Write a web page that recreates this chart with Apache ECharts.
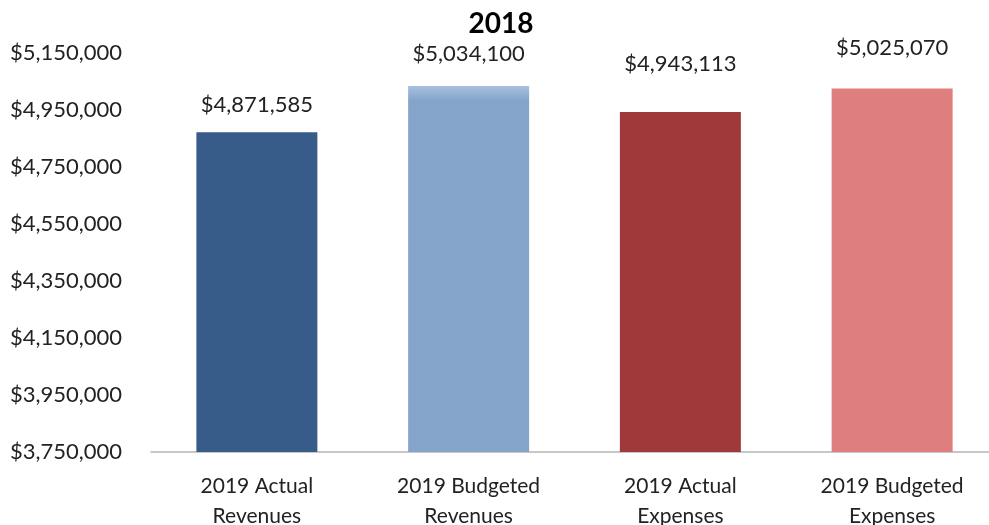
<!DOCTYPE html>
<html>
<head>
<meta charset="utf-8">
<style>
  html, body { margin: 0; padding: 0; background: #fff; }
  #main { width: 989px; height: 525px; }
</style>
<script src="https://cdn.jsdelivr.net/npm/echarts@6/dist/echarts.min.js"></script>
</head>
<body>
<div id="main"></div>
<script>
const categories = ['2019 Actual\nRevenues', '2019 Budgeted\nRevenues', '2019 Actual\nExpenses', '2019 Budgeted\nExpenses'];
const values = [4871585, 5034100, 4943113, 5025070];
const barColors = ['#375C89', '#84A4CA', '#A03A3A', '#DF7E7E'];
// the value labels sit at uneven heights above the bars in the original
const labelGaps = [16, 21, 37, 30];

const chart = echarts.init(document.getElementById('main'));
const font = 'Lato, "Open Sans", sans-serif';

// format 4871585 -> $4,871,585
const money = v => '$' + Math.round(v).toLocaleString('en-US');

chart.setOption({
    title: {
        text: '2018',
        left: 496,
        textAlign: 'center',
        top: 5,
        textStyle: { fontFamily: font, fontSize: 28, fontWeight: 'bold', color: '#000' }
    },
    grid: { left: 151, top: 53, width: 847, height: 399, containLabel: false, outerBoundsMode: 'none' },
    xAxis: {
        type: 'category',
        data: categories,
        axisLine: { lineStyle: { color: '#B5B5B5', width: 1.5 } },
        axisTick: { show: false },
        axisLabel: { fontFamily: font, fontSize: 21, color: '#222', lineHeight: 30, margin: 19 }
    },
    yAxis: {
        type: 'value',
        min: 3750000,
        max: 5150000,
        interval: 200000,
        splitLine: { show: false },
        axisLine: { show: false },
        axisTick: { show: false },
        axisLabel: { fontFamily: font, fontSize: 22, color: '#222', margin: 29, padding: [5, 0, 0, 0], formatter: money }
    },
    series: [{
        type: 'bar',
        barWidth: 121,
        data: values.map((v, i) => ({
            value: v,
            label: { distance: labelGaps[i] },
            itemStyle: {
                color: i === 1
                    ? new echarts.graphic.LinearGradient(0, 0, 0, 1, [
                        { offset: 0, color: '#A9C1DE' },
                        { offset: 0.04, color: '#84A4CA' },
                        { offset: 1, color: '#84A4CA' }
                    ])
                    : barColors[i]
            }
        })),
        label: {
            show: true,
            position: 'top',
            fontFamily: font,
            fontSize: 22,
            color: '#222',
            formatter: p => money(p.value)
        }
    }]
});
window.onresize = () => chart.resize();
</script>
</body>
</html>
